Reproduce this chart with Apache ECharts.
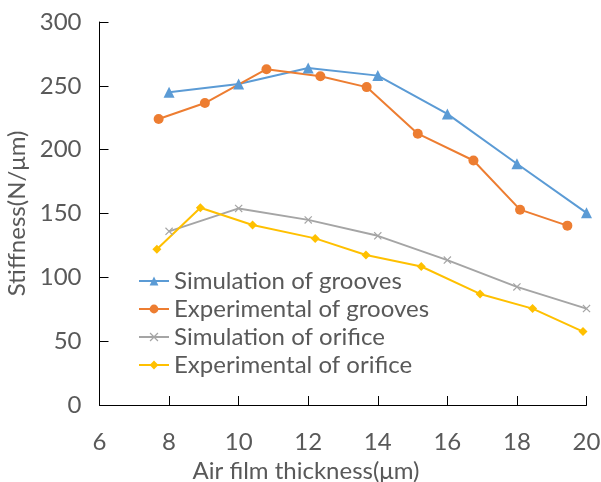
<!DOCTYPE html>
<html>
<head>
<meta charset="utf-8">
<script src="https://cdn.jsdelivr.net/npm/echarts@6/dist/echarts.min.js"></script>
<style>
  html, body { margin: 0; padding: 0; background: #fff; overflow: hidden; }
  #chart { width: 601px; height: 482px; overflow: hidden; }
</style>
</head>
<body>
<div id="chart"></div>
<script>
// Stiffness vs. air film thickness: grooves vs. orifice, simulation and experiment
const seriesNames = [
  'Simulation of grooves',
  'Experimental of grooves',
  'Simulation of orifice',
  'Experimental of orifice'
];

const simGroovesX = [8, 10, 12, 14, 16, 18, 20];
const simGroovesY = [245, 251.5, 264, 258, 228, 189, 150.5];

const expGroovesX = [7.7, 9.03, 10.8, 12.35, 13.68, 15.15, 16.75, 18.09, 19.45];
const expGroovesY = [224, 236.5, 263, 257.5, 249, 212.5, 191.5, 153, 140.5];

const simOrificeX = [8, 10, 12, 14, 16, 18, 20];
const simOrificeY = [136, 154, 145, 132.5, 113.5, 92.5, 75.5];

const expOrificeX = [7.65, 8.9, 10.4, 12.2, 13.66, 15.25, 16.94, 18.45, 19.9];
const expOrificeY = [122, 154.5, 141, 130.5, 117.5, 108.5, 87, 75.5, 57.5];

const colors = ['#5B9BD5', '#ED7D31', '#A5A5A5', '#FFC000'];
const textColor = '#595959';
const fontFamily = 'Lato, "Open Sans", sans-serif';
const fontSize = 24;

function pairs(xs, ys) {
  return xs.map((x, i) => [x, ys[i]]);
}

// cross marker as a filled outline so it renders like a drawn "x"
const crossSymbol = 'path://M0,1 L1,0 L5,4 L9,0 L10,1 L6,5 L10,9 L9,10 L5,6 L1,10 L0,9 L4,5 Z';

const chart = echarts.init(document.getElementById('chart'), null, { renderer: 'canvas', width: 601, height: 482 });

const lineSeries = (name, data, color, symbol, size) => ({
  name,
  type: 'line',
  data,
  symbol,
  symbolSize: size,
  showAllSymbol: true,
  lineStyle: { color, width: 2 },
  itemStyle: { color, borderWidth: 0 },
  emphasis: { disabled: true },
  animation: false,
  z: 2
});

chart.setOption({
  backgroundColor: '#ffffff',
  animation: false,
  textStyle: { fontFamily },
  grid: {
    left: 99.5, right: 14.5, top: 22, bottom: 77,
    containLabel: false,
    outerBoundsMode: 'none'
  },
  legend: {
    orient: 'vertical',
    left: 138,
    top: 269,
    itemWidth: 30,
    itemHeight: 11,
    itemGap: 4,
    data: seriesNames,
    textStyle: { color: textColor, fontSize, fontFamily },
    padding: 0
  },
  xAxis: {
    type: 'value',
    min: 6,
    max: 20,
    interval: 2,
    name: 'Air film thickness(\u03bcm)',
    nameLocation: 'middle',
    nameGap: 47,
    nameTextStyle: { color: textColor, fontSize, fontFamily, padding: [0, 74, 0, 0] },
    axisLine: { show: true, onZero: false, lineStyle: { color: '#000', width: 1 } },
    axisTick: { show: true, inside: true, length: 9, lineStyle: { color: '#000' } },
    axisLabel: { color: textColor, fontSize, fontFamily, margin: 25 },
    splitLine: { show: false }
  },
  yAxis: {
    type: 'value',
    min: 0,
    max: 300,
    interval: 50,
    name: 'Stiffness(N/\u03bcm)',
    nameLocation: 'middle',
    nameGap: 64,
    nameRotate: 90,
    nameTextStyle: { color: textColor, fontSize, fontFamily },
    axisLine: { show: true, lineStyle: { color: '#000', width: 1 } },
    axisTick: { show: true, inside: true, length: 9, lineStyle: { color: '#000' } },
    axisLabel: { color: textColor, fontSize, fontFamily, margin: 18 },
    splitLine: { show: false }
  },
  series: [
    lineSeries(seriesNames[0], pairs(simGroovesX, simGroovesY), colors[0], 'triangle', 11),
    lineSeries(seriesNames[1], pairs(expGroovesX, expGroovesY), colors[1], 'circle', 10),
    lineSeries(seriesNames[2], pairs(simOrificeX, simOrificeY), colors[2], crossSymbol, 8),
    lineSeries(seriesNames[3], pairs(expOrificeX, expOrificeY), colors[3], 'diamond', 9)
  ]
});
</script>
</body>
</html>
